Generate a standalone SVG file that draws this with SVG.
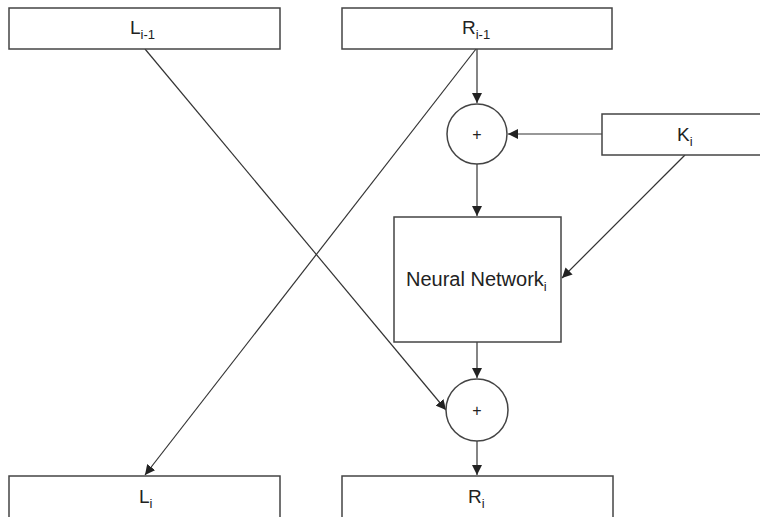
<svg xmlns="http://www.w3.org/2000/svg" width="760" height="517" viewBox="0 0 760 517">
<defs>
<style>
.box{fill:#fff;stroke:#444;stroke-width:1.5}
.ln{stroke:#333;stroke-width:1.2;fill:none}
.t{font-family:"Liberation Sans",Arial,sans-serif;font-size:19px;fill:#222}
.s{font-size:13px}
.p{font-family:"Liberation Sans",Arial,sans-serif;font-size:16px;fill:#222;text-anchor:middle}
</style>
<marker id="ah" viewBox="0 0 10 10" refX="10" refY="5" markerWidth="10" markerHeight="10" markerUnits="userSpaceOnUse" orient="auto">
<path d="M0,0 L10,5 L0,10 z" fill="#222"/>
</marker>
</defs>
<rect width="760" height="517" fill="#fff"/>
<g id="connectors">
<line class="ln" x1="145" y1="49" x2="446" y2="410" marker-end="url(#ah)"/>
<line class="ln" x1="476" y1="49" x2="145" y2="475" marker-end="url(#ah)"/>
<line class="ln" x1="477" y1="49" x2="477" y2="103" marker-end="url(#ah)"/>
<line class="ln" x1="602" y1="134" x2="508" y2="134" marker-end="url(#ah)"/>
<line class="ln" x1="477" y1="164" x2="477" y2="216" marker-end="url(#ah)"/>
<line class="ln" x1="685" y1="155" x2="562" y2="278" marker-end="url(#ah)"/>
<line class="ln" x1="477" y1="342" x2="477" y2="378" marker-end="url(#ah)"/>
<line class="ln" x1="477" y1="441" x2="477" y2="475" marker-end="url(#ah)"/>
</g>
<g id="L_prev">
<rect class="box" x="9" y="8" width="271" height="41"/>
<text class="t" x="130" y="34">L<tspan class="s" dy="5">i-1</tspan></text>
</g>
<g id="R_prev">
<rect class="box" x="342" y="8" width="270" height="41"/>
<text class="t" x="462" y="34">R<tspan class="s" dy="5">i-1</tspan></text>
</g>
<g id="xor1">
<circle class="box" cx="477" cy="134" r="30"/>
<text class="p" x="477" y="140">+</text>
</g>
<g id="K">
<rect class="box" x="602" y="114" width="170" height="41"/>
<text class="t" x="677" y="141">K<tspan class="s" dy="5">i</tspan></text>
</g>
<g id="NN">
<rect class="box" x="394" y="217" width="167" height="125"/>
<text class="t" x="406" y="286" style="font-size:20px">Neural Network<tspan class="s" dy="5">i</tspan></text>
</g>
<g id="xor2">
<circle class="box" cx="477" cy="410" r="31"/>
<text class="p" x="477" y="416">+</text>
</g>
<g id="L_i">
<rect class="box" x="9" y="476" width="271" height="50"/>
<text class="t" x="139" y="503">L<tspan class="s" dy="5">i</tspan></text>
</g>
<g id="R_i">
<rect class="box" x="342" y="476" width="271" height="50"/>
<text class="t" x="468" y="503">R<tspan class="s" dy="5">i</tspan></text>
</g>
</svg>
